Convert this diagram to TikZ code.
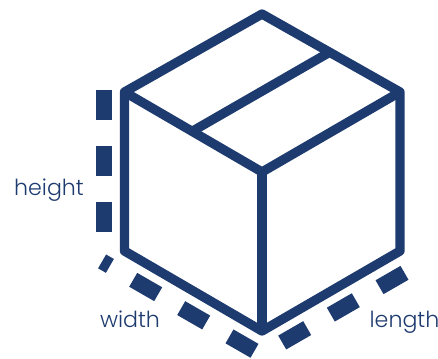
\documentclass[tikz,border=0pt]{standalone}
\usepackage{fontspec}
\setmainfont{Poppins}[UprightFont=* Light]
\definecolor{boxblue}{HTML}{1E3B70}
\tikzset{
    boxline/.style={draw=boxblue, line width=7pt, line join=round},
    sizedash/.style={draw=boxblue, line width=12pt},
    sizelabel/.style={text=boxblue, font=\fontsize{16.6}{20}\selectfont, inner sep=0pt, anchor=base},
}

\begin{document}
\begin{tikzpicture}[x=0.75pt, y=-0.75pt]
    \useasboundingbox (0,0) rectangle (438,358);
    \coordinate (top) at (262,14);
    \coordinate (lefttop) at (124.5,92);
    \coordinate (righttop) at (400,92);
    \coordinate (centre) at (262,172);
    \coordinate (leftbottom) at (124.5,251);
    \coordinate (rightbottom) at (400,251);
    \coordinate (bottom) at (262,331);
    \coordinate (tapeleft) at (191,132);
    \coordinate (taperight) at (330,52);
    \draw[boxline] (top) -- (righttop) -- (rightbottom) -- (bottom) -- (leftbottom) -- (lefttop) -- cycle;
    \draw[boxline] (lefttop) -- (centre) -- (righttop);
    \draw[boxline] (centre) -- (bottom);
    \draw[boxline] (tapeleft) -- (taperight);
    \foreach \y in {90,146,202}
        \draw[sizedash] (104,\y) -- (104,\y+30);
    \draw[sizedash] (102.1,261.4) -- (109.9,265.9);
    \foreach \x/\y in {145.7/287, 193.7/315.3, 242/343.6}
        \draw[sizedash] ({\x-12.5},{\y-7.2}) -- ({\x+12.5},{\y+7.2});
    \foreach \x/\y in {294.7/335.3, 343.3/307.4, 392/280}
        \draw[sizedash] ({\x-12.5},{\y+7.2}) -- ({\x+12.5},{\y-7.2});
    \node[sizelabel] (height) at (49,195) {height};
    \node[sizelabel] (width) at (130,327.5) {width};
    \node[sizelabel] (length) at (404.5,327.5) {length};
\end{tikzpicture}
\end{document}
